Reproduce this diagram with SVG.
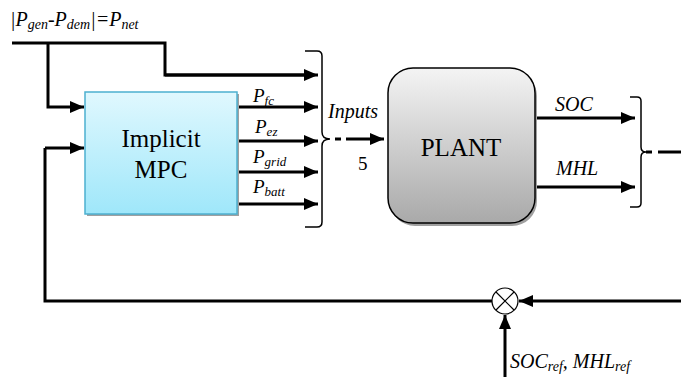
<svg xmlns="http://www.w3.org/2000/svg" width="681" height="383" viewBox="0 0 681 383">
<defs>
<marker id="ah" markerWidth="14" markerHeight="12" refX="14" refY="6" orient="auto" markerUnits="userSpaceOnUse">
<path d="M0,0 L14,6 L0,12 Z" fill="#000"/>
</marker>
<linearGradient id="gMpc" x1="0" y1="0" x2="0" y2="1">
<stop offset="0" stop-color="#e0f8fe"/>
<stop offset="1" stop-color="#9fe7fa"/>
</linearGradient>
<linearGradient id="gPlant" x1="0" y1="0" x2="0" y2="1">
<stop offset="0" stop-color="#f4f4f4"/>
<stop offset="1" stop-color="#a9a9a9"/>
</linearGradient>
</defs>
<style>
.ln{fill:none;stroke:#000;stroke-width:3}
.ar{fill:none;stroke:#000;stroke-width:3;marker-end:url(#ah)}
.br{fill:none;stroke:#000;stroke-width:1.5}
text{font-family:'Liberation Serif','DejaVu Serif',serif;fill:#000}
.i{font-style:italic}
</style>
<g id="connectors">
<path class="ln" d="M12,43 H165 V75 H304"/>
<path class="ar" d="M165,75 H318"/>
<path class="ar" d="M48,43 V107 H84"/>
<path class="ar" d="M237,107 H318"/>
<path class="ar" d="M237,141 H318"/>
<path class="ar" d="M237,172 H318"/>
<path class="ar" d="M237,204 H318"/>
<path class="ar" d="M681,301 H519"/>
<path class="ln" d="M492,301 H45 V148"/>
<path class="ar" d="M45,148 H84"/>
<path class="ar" d="M505,377 V315"/>
<path class="ln" d="M335,139 H341"/>
<path class="ar" d="M346,139 H384"/>
<path class="ar" d="M535,118 H635"/>
<path class="ar" d="M535,187 H635"/>
<path class="ln" d="M646,152 H652"/>
<path class="ln" d="M658,152 H681"/>
<path class="br" d="M305,51 H317 Q322,51 322,56 V132 Q322,139 330,139 Q322,139 322,146 V222 Q322,227 317,227 H305"/>
<path class="br" d="M630,97 H637 Q641,97 641,101 V147 Q641,152 646,152 Q641,152 641,157 V203 Q641,207 637,207 H630"/>
</g>
<g id="mpc">
<rect x="87" y="94" width="152" height="122" fill="#a0a0a0"/>
<rect x="85" y="92" width="152" height="122" fill="url(#gMpc)" stroke="#4cb0d0" stroke-width="1.5"/>
<text x="161" y="147" font-size="25" text-anchor="middle">Implicit</text>
<text x="161" y="178" font-size="25" text-anchor="middle">MPC</text>
</g>
<g id="plant">
<rect x="390" y="71" width="147" height="155" rx="25" fill="#a0a0a0"/>
<rect x="388" y="68" width="147" height="155" rx="25" fill="url(#gPlant)" stroke="#000" stroke-width="1.5"/>
<text x="461" y="156" font-size="25" text-anchor="middle">PLANT</text>
</g>
<g id="sum">
<circle cx="505" cy="301" r="13" fill="#fff" stroke="#000" stroke-width="1.2"/>
<path d="M496,292 L514,310 M514,292 L496,310" stroke="#000" stroke-width="1.2"/>
</g>
<g id="labels">
<text class="i" x="10" y="26" font-size="20">|P<tspan font-size="14" dy="3">gen</tspan><tspan dy="-3">-P</tspan><tspan font-size="14" dy="3">dem</tspan><tspan dy="-3">|=P</tspan><tspan font-size="14" dy="3">net</tspan></text>
<text class="i" x="253" y="102" font-size="19">P<tspan font-size="13" dy="3">fc</tspan></text>
<text class="i" x="255" y="133" font-size="19">P<tspan font-size="13" dy="3">ez</tspan></text>
<text class="i" x="253" y="163" font-size="19">P<tspan font-size="13" dy="3">grid</tspan></text>
<text class="i" x="253" y="193" font-size="19">P<tspan font-size="13" dy="3">batt</tspan></text>
<text class="i" x="328" y="118" font-size="20">Inputs</text>
<text x="358" y="170" font-size="19">5</text>
<text class="i" x="555" y="111" font-size="20">SOC</text>
<text class="i" x="556" y="175" font-size="20">MHL</text>
<text class="i" x="510" y="368" font-size="20">SOC<tspan font-size="14" dy="3">ref</tspan><tspan dy="-3">, MHL</tspan><tspan font-size="14" dy="3">ref</tspan></text>
</g>
</svg>
